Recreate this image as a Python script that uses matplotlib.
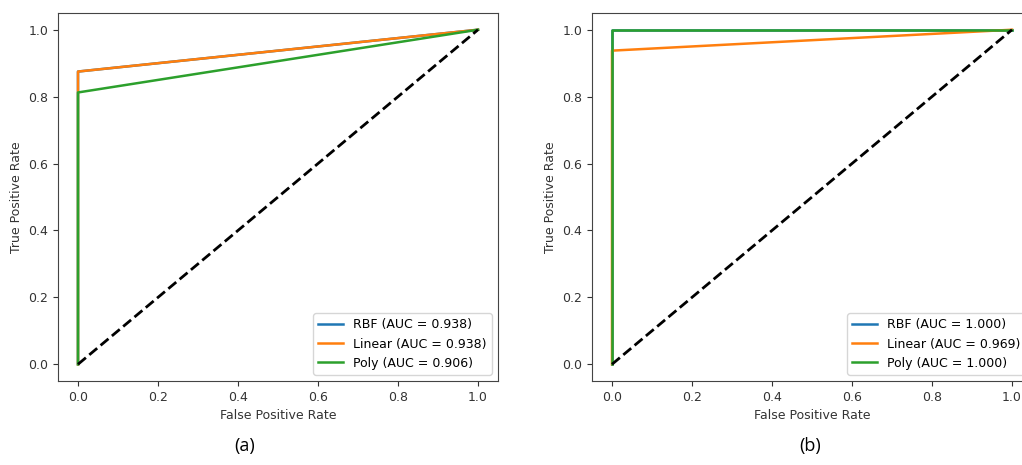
import numpy as np
import matplotlib
matplotlib.use("Agg")
import matplotlib.pyplot as plt

# ROC points (fpr, tpr per kernel)
kernels = ["RBF", "Linear", "Poly"]
colors = ["#1f77b4", "#ff7f0e", "#2ca02c"]

fpr_a = [[0.0, 0.0, 1.0], [0.0, 0.0, 1.0], [0.0, 0.0, 1.0]]
tpr_a = [[0.0, 0.875, 1.0], [0.0, 0.875, 1.0], [0.0, 0.8125, 1.0]]
auc_a = [0.938, 0.938, 0.906]

fpr_b = [[0.0, 0.0, 1.0], [0.0, 0.0, 1.0], [0.0, 0.0, 1.0]]
tpr_b = [[0.0, 1.0, 1.0], [0.0, 0.9375, 1.0], [0.0, 1.0, 1.0]]
auc_b = [1.000, 0.969, 1.000]

ticks = [0.0, 0.2, 0.4, 0.6, 0.8, 1.0]
captions = ["(a)", "(b)"]

W, H = 1022, 465
fig = plt.figure(figsize=(W / 100, H / 100), dpi=100)

# axes boxes in pixels: left, bottom(from top), width, height
boxes = [(58, 381, 440, 368), (592, 381, 440, 368)]
cap_x = [245, 810]

panels = [(fpr_a, tpr_a, auc_a), (fpr_b, tpr_b, auc_b)]

for i, (fprs, tprs, aucs) in enumerate(panels):
    left, bottom, w, h = boxes[i]
    ax = fig.add_axes([left / W, (H - bottom) / H, w / W, h / H])
    for name, c, x, y, a in zip(kernels, colors, fprs, tprs, aucs):
        ax.plot(x, y, color=c, lw=1.8, label=f"{name} (AUC = {a:.3f})")
    ax.plot([0, 1], [0, 1], "k--", lw=2)
    ax.set_xlim(-0.05, 1.05)
    ax.set_ylim(-0.05, 1.05)
    ax.set_xticks(ticks)
    ax.set_yticks(ticks)
    ax.tick_params(labelsize=9, colors="#333333")
    for s in ax.spines.values():
        s.set_color("#444444")
    ax.set_xlabel("False Positive Rate", fontsize=9, color="#333333")
    ax.set_ylabel("True Positive Rate", fontsize=9, color="#333333")
    ax.legend(loc="lower right", fontsize=9)
    fig.text(cap_x[i] / W, 1 - 446 / H, captions[i], ha="center", va="center",
             fontsize=13, family="Open Sans")

fig.savefig("out.png", dpi=100)
